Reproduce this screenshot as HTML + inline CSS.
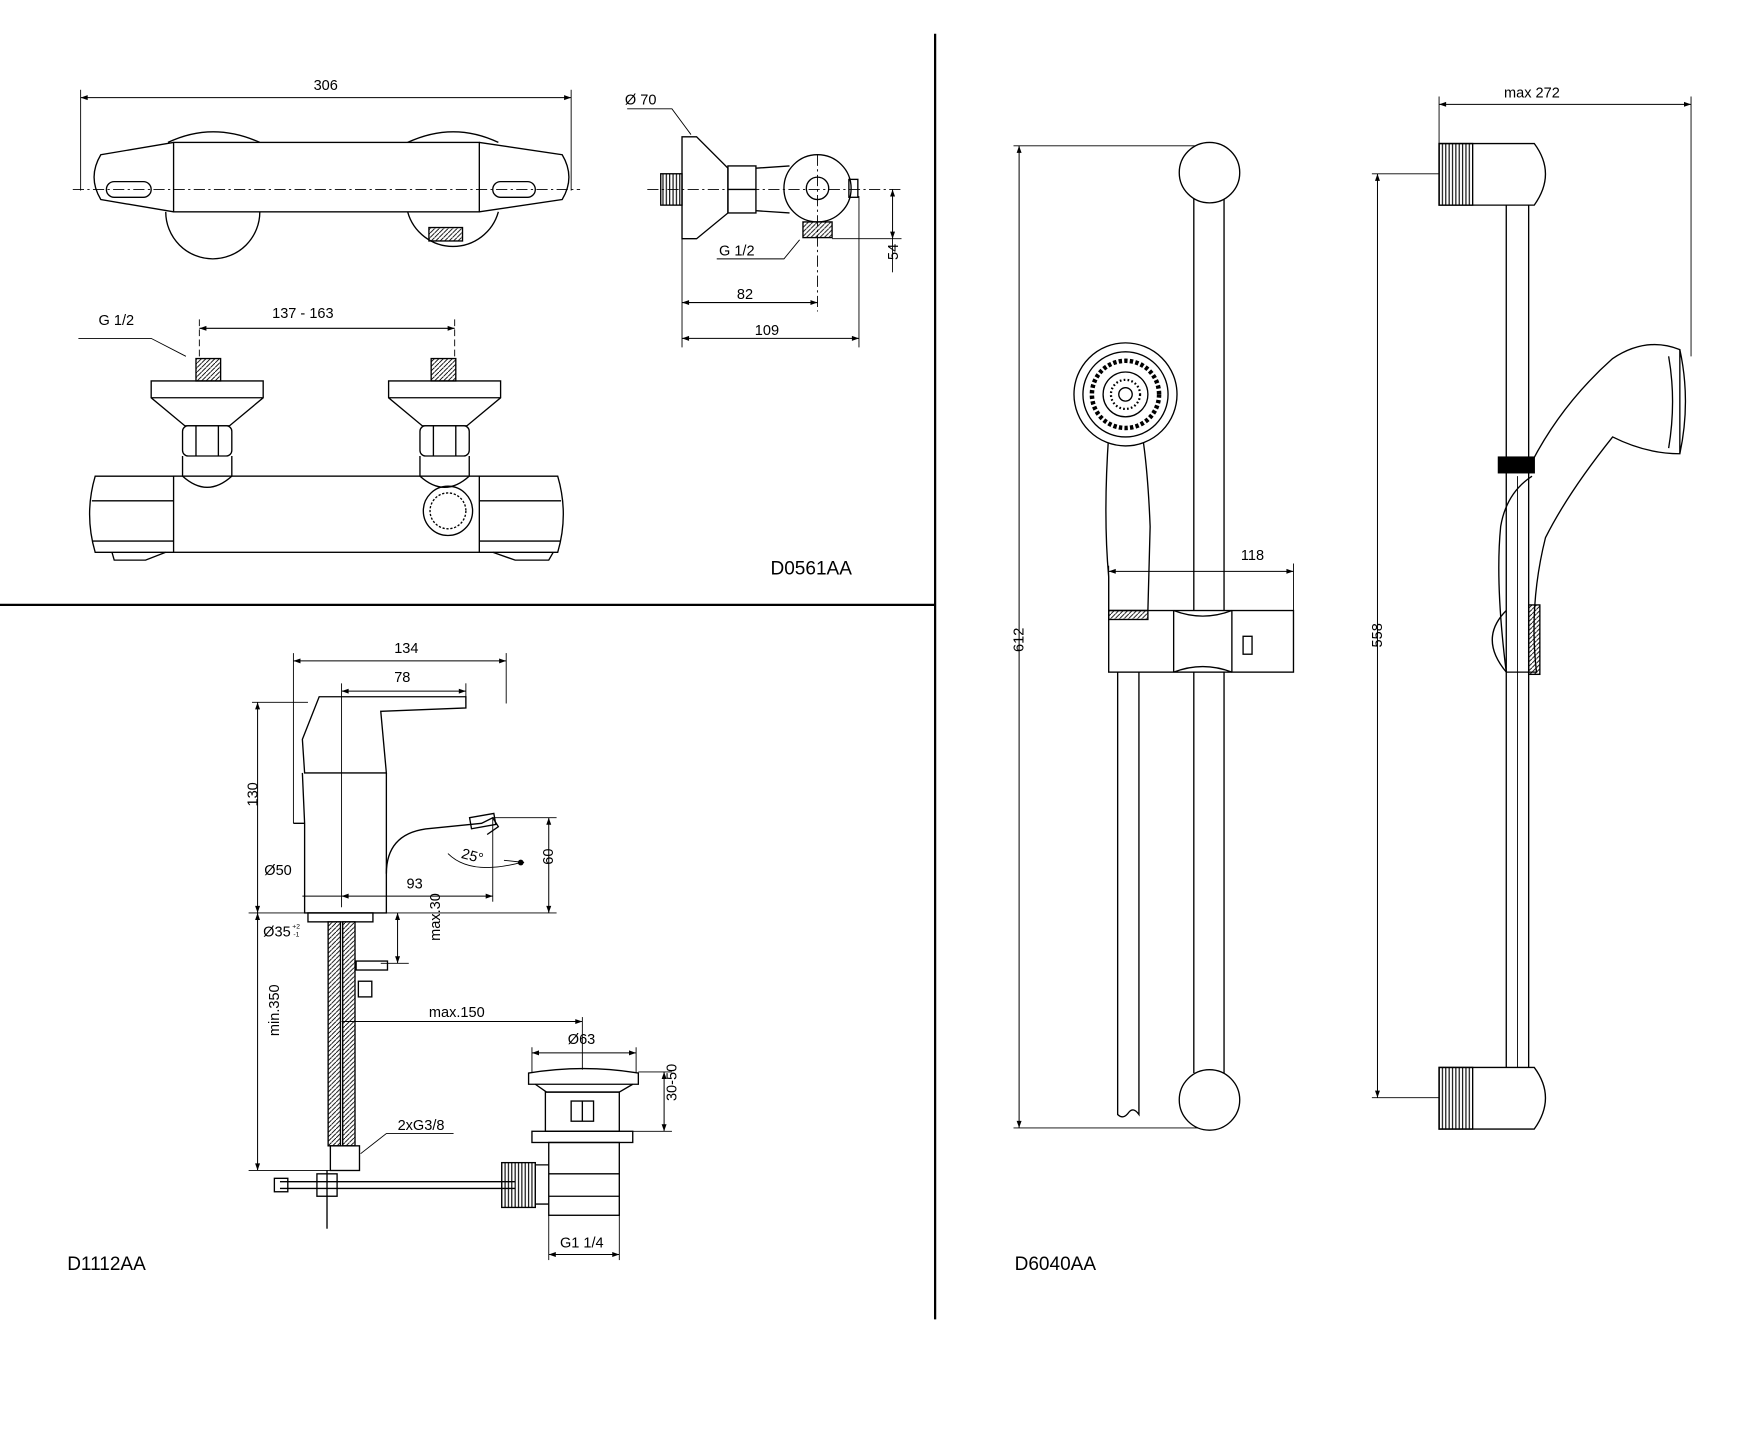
<!DOCTYPE html>
<html><head><meta charset="utf-8"><style>
html,body{margin:0;padding:0;background:#fff}
svg{display:block}
text{font-family:"Liberation Sans",Arial,sans-serif;font-size:13px;fill:#000}
.t{font-size:17px}
</style></head><body>
<svg width="1756" height="1454" viewBox="0 0 1568 1298" xmlns="http://www.w3.org/2000/svg">
<defs>
<marker id="a" viewBox="0 0 10 10" refX="10" refY="5" markerWidth="9" markerHeight="7" orient="auto-start-reverse"><path d="M0,1.5 L10,5 L0,8.5z" fill="#000"/></marker>
<pattern id="h" width="4" height="4" patternUnits="userSpaceOnUse"><path d="M0,4 L4,0" stroke="#000" stroke-width="0.8"/></pattern>
<pattern id="v" width="3" height="4" patternUnits="userSpaceOnUse"><path d="M1,0 V4" stroke="#000" stroke-width="1"/></pattern>
</defs>
<g fill="none" stroke="#000" stroke-width="1.2">
<line x1="835" y1="30" x2="835" y2="1178" stroke-width="2"/>
<line x1="0" y1="540" x2="835" y2="540" stroke-width="2"/>

<g stroke-width="0.8">
<line x1="72" y1="80" x2="72" y2="170"/><line x1="510" y1="80" x2="510" y2="170"/>
</g>
<line x1="72" y1="87" x2="510" y2="87" marker-start="url(#a)" marker-end="url(#a)" stroke-width="0.9"/>
<path d="M150,127 Q190,108 232,127 M148,189 A42,42 0 0 0 232,189"/>
<path d="M364,127 Q405,108 445,127 M364,189 A42,42 0 0 0 445,189"/>
<rect x="155" y="127" width="273" height="62"/>
<path d="M155,127 L90,138 Q78,158 90,178 L155,189"/>
<path d="M428,127 L502,138 Q514,158 502,178 L428,189"/>
<rect x="95" y="162" width="40" height="14" rx="7"/>
<rect x="440" y="162" width="38" height="14" rx="7"/>
<line x1="65" y1="169" x2="518" y2="169" stroke-dasharray="10,3,2,3" stroke-width="0.8"/>
<rect x="383" y="203" width="30" height="12" fill="url(#h)"/>

<rect x="590" y="155" width="19" height="28" fill="url(#v)"/>
<path d="M609,122 L622,122 L650,150 L650,190 L622,213 L609,213 Z"/>
<rect x="650" y="148" width="25" height="42"/><line x1="650" y1="169" x2="675" y2="169"/>
<path d="M675,150 L705,148 M675,188 L705,190"/>
<circle cx="730" cy="168" r="30"/><circle cx="730" cy="168" r="10"/>
<rect x="758" y="160" width="8" height="16"/>
<rect x="717" y="198" width="26" height="14" fill="url(#h)"/>
<line x1="578" y1="169" x2="805" y2="169" stroke-dasharray="10,3,2,3" stroke-width="0.8"/>
<line x1="730" y1="138" x2="730" y2="278" stroke-dasharray="10,3,2,3" stroke-width="0.8"/>
<g stroke-width="0.8">
<line x1="743" y1="213" x2="805" y2="213"/>
<line x1="609" y1="213" x2="609" y2="310"/><line x1="767" y1="175" x2="767" y2="310"/>
<path d="M560,97 L600,97 L617,120"/>
<path d="M640,231 L700,231 L714,214"/>
</g>
<line x1="797" y1="169" x2="797" y2="213" marker-start="url(#a)" marker-end="url(#a)" stroke-width="0.9"/>
<line x1="797" y1="213" x2="797" y2="243" stroke-width="0.8"/>
<line x1="609" y1="270" x2="730" y2="270" marker-start="url(#a)" marker-end="url(#a)" stroke-width="0.9"/>
<line x1="609" y1="302" x2="767" y2="302" marker-start="url(#a)" marker-end="url(#a)" stroke-width="0.9"/>

<rect x="175" y="320" width="22" height="20" fill="url(#h)"/>
<rect x="385" y="320" width="22" height="20" fill="url(#h)"/>
<path d="M135,340 H235 V355 L205,380 H165 L135,355 Z M135,355 H235"/>
<path d="M347,340 H447 V355 L417,380 H377 L347,355 Z M347,355 H447"/>
<rect x="163" y="380" width="44" height="27" rx="5"/><path d="M175,380 V407 M195,380 V407"/>
<rect x="375" y="380" width="44" height="27" rx="5"/><path d="M387,380 V407 M407,380 V407"/>
<path d="M163,407 V425 Q185,445 207,425 V407"/>
<path d="M375,407 V425 Q397,445 419,425 V407"/>
<rect x="155" y="425" width="273" height="68"/>
<path d="M155,425 H85 Q75,459 85,493 H155 M82,447 H155 M82,483 H155"/>
<path d="M428,425 H498 Q508,459 498,493 H428 M428,447 H501 M428,483 H501"/>
<path d="M100,493 L102,500 H130 L148,493 M440,493 L460,500 H490 L494,493"/>
<circle cx="400" cy="456" r="22"/><circle cx="400" cy="456" r="16" stroke-dasharray="2,1.5"/>
<g stroke-width="0.8">
<line x1="178" y1="285" x2="178" y2="318" stroke-dasharray="6,3"/>
<line x1="406" y1="285" x2="406" y2="318" stroke-dasharray="6,3"/>
<path d="M70,302 L135,302 L166,318"/>
</g>
<line x1="178" y1="293" x2="406" y2="293" marker-start="url(#a)" marker-end="url(#a)" stroke-width="0.9"/>

<g stroke-width="0.8">
<line x1="262" y1="583" x2="262" y2="735"/><line x1="452" y1="583" x2="452" y2="628"/>
<line x1="305" y1="610" x2="305" y2="810"/><line x1="416" y1="610" x2="416" y2="628"/>
<line x1="225" y1="627" x2="275" y2="627"/>
<line x1="222" y1="815" x2="497" y2="815"/>
<line x1="440" y1="730" x2="497" y2="730"/>
<line x1="440" y1="730" x2="440" y2="805"/>
<line x1="222" y1="1045" x2="300" y2="1045"/>
<line x1="340" y1="860" x2="365" y2="860"/>
<line x1="520" y1="908" x2="520" y2="955"/>
<line x1="475" y1="935" x2="475" y2="958"/><line x1="568" y1="935" x2="568" y2="958"/>
<line x1="570" y1="957" x2="600" y2="957"/><line x1="565" y1="1010" x2="600" y2="1010"/>
<line x1="490" y1="1085" x2="490" y2="1125"/><line x1="553" y1="1085" x2="553" y2="1125"/>
<path d="M405,1012 H345 L322,1030"/>
<path d="M450,768 L468,770"/>
</g>
<g stroke-width="0.9">
<line x1="262" y1="590" x2="452" y2="590" marker-start="url(#a)" marker-end="url(#a)"/>
<line x1="305" y1="617" x2="416" y2="617" marker-start="url(#a)" marker-end="url(#a)"/>
<line x1="230" y1="627" x2="230" y2="815" marker-start="url(#a)" marker-end="url(#a)"/>
<line x1="490" y1="730" x2="490" y2="815" marker-start="url(#a)" marker-end="url(#a)"/>
<line x1="305" y1="800" x2="440" y2="800" marker-start="url(#a)" marker-end="url(#a)"/>
<line x1="270" y1="800" x2="305" y2="800"/>
<line x1="355" y1="815" x2="355" y2="860" marker-start="url(#a)" marker-end="url(#a)"/>
<line x1="230" y1="815" x2="230" y2="1045" marker-start="url(#a)" marker-end="url(#a)"/>
<line x1="305" y1="912" x2="520" y2="912" marker-end="url(#a)"/>
<line x1="475" y1="940" x2="568" y2="940" marker-start="url(#a)" marker-end="url(#a)"/>
<line x1="593" y1="957" x2="593" y2="1010" marker-start="url(#a)" marker-end="url(#a)"/>
<line x1="490" y1="1120" x2="553" y2="1120" marker-start="url(#a)" marker-end="url(#a)"/>
</g>
<path d="M285,622 L416,622 L416,632 L340,635 L345,690 L272,690 L270,660 Z"/>
<path d="M270,690 L272,735 L262,735 M272,735 V815 H345 V780 Q345,745 380,740 L430,735 L440,730 L445,738 L435,745"/>
<path d="M345,690 V780"/>
<rect x="420" y="728" width="22" height="10" transform="rotate(-10 431 733)"/>
<path d="M400,762 Q420,782 465,770" stroke-width="0.8"/>
<circle cx="465" cy="770" r="2" fill="#000"/>
<rect x="275" y="815" width="58" height="8"/>
<rect x="293" y="823" width="11" height="200" fill="url(#h)"/>
<rect x="306" y="823" width="11" height="200" fill="url(#h)"/>
<rect x="318" y="858" width="28" height="8"/>
<rect x="320" y="876" width="12" height="14"/>
<rect x="295" y="1023" width="26" height="22"/>
<line x1="250" y1="1055" x2="460" y2="1055"/><line x1="250" y1="1061" x2="460" y2="1061"/>
<rect x="245" y="1052" width="12" height="12"/>
<rect x="283" y="1048" width="18" height="20"/>
<line x1="292" y1="1045" x2="292" y2="1097"/>
<rect x="448" y="1038" width="30" height="40" fill="url(#v)"/>
<path d="M472,958 Q521,950 570,958 V968 H472 Z"/>
<path d="M478,968 L488,975 H553 L565,968"/>
<rect x="487" y="975" width="66" height="35"/>
<rect x="510" y="983" width="20" height="18"/><line x1="520" y1="983" x2="520" y2="1001"/>
<rect x="475" y="1010" width="90" height="10"/>
<rect x="490" y="1020" width="63" height="65"/>
<path d="M478,1040 H490 M478,1075 H490 M490,1048 H553 M490,1068 H553"/>

<g stroke-width="0.8">
<line x1="905" y1="130" x2="1080" y2="130"/><line x1="905" y1="1007" x2="1080" y2="1007"/>
<line x1="990" y1="505" x2="990" y2="548"/><line x1="1155" y1="503" x2="1155" y2="548"/>
<line x1="1285" y1="86" x2="1285" y2="128"/><line x1="1510" y1="86" x2="1510" y2="318"/>
<line x1="1225" y1="155" x2="1285" y2="155"/><line x1="1225" y1="980" x2="1285" y2="980"/>
</g>
<g stroke-width="0.9">
<line x1="910" y1="130" x2="910" y2="1007" marker-start="url(#a)" marker-end="url(#a)"/>
<line x1="990" y1="510" x2="1155" y2="510" marker-start="url(#a)" marker-end="url(#a)"/>
<line x1="1285" y1="93" x2="1510" y2="93" marker-start="url(#a)" marker-end="url(#a)"/>
<line x1="1230" y1="155" x2="1230" y2="980" marker-start="url(#a)" marker-end="url(#a)"/>
</g>
<line x1="1066" y1="175" x2="1066" y2="958"/><line x1="1093" y1="175" x2="1093" y2="958"/>
<circle cx="1080" cy="154" r="27" fill="#fff"/>
<circle cx="1080" cy="982" r="27" fill="#fff"/>
<path d="M998,600 V995 Q1003,1000 1008,993 Q1012,988 1017,995 V600"/>
<path d="M990,388 Q985,460 990,515 L990,545 H1025 L1027,470 Q1025,420 1020,388"/>
<circle cx="1005" cy="352" r="46" fill="#fff"/>
<circle cx="1005" cy="352" r="38"/>
<circle cx="1005" cy="352" r="30" stroke-width="4" stroke-dasharray="3,2"/>
<circle cx="1005" cy="352" r="20"/>
<circle cx="1005" cy="352" r="13" stroke-width="2" stroke-dasharray="1.5,2"/>
<circle cx="1005" cy="352" r="6"/>
<rect x="990" y="545" width="165" height="55" fill="#fff"/>
<rect x="990" y="545" width="35" height="8" fill="url(#h)"/>
<path d="M1048,545 V600 M1100,545 V600 M1048,545 Q1074,555 1100,545 M1048,600 Q1074,590 1100,600"/>
<rect x="1110" y="568" width="8" height="16"/>

<line x1="1345" y1="183" x2="1345" y2="953"/><line x1="1365" y1="183" x2="1365" y2="953"/>
<line x1="1355" y1="425" x2="1355" y2="953" stroke-width="0.8"/>
<path d="M1285,128 H1370 Q1390,155 1370,183 H1285 Z"/>
<rect x="1285" y="128" width="30" height="55" fill="url(#v)"/>
<path d="M1285,953 H1370 Q1390,980 1370,1008 H1285 Z"/>
<rect x="1285" y="953" width="30" height="55" fill="url(#v)"/>
<path d="M1368,412 Q1395,360 1440,320 Q1470,300 1500,312 L1500,405 Q1470,405 1440,390 Q1400,440 1380,480 Q1365,540 1372,600 L1345,600 Q1335,520 1340,470 Q1345,440 1368,425"/>
<path d="M1500,312 Q1510,358 1500,405 M1490,318 Q1497,358 1490,400"/>
<rect x="1338" y="408" width="32" height="14" fill="#000"/>
<path d="M1345,545 Q1320,570 1345,600"/>
<rect x="1365" y="540" width="10" height="62" fill="url(#h)"/>
</g>
<g>
<text x="280" y="80">306</text>
<text x="558" y="93">Ø 70</text>
<text x="642" y="228">G 1/2</text>
<text x="658" y="267">82</text>
<text x="674" y="299">109</text>
<text x="793" y="241" transform="rotate(-90 793 232)">54</text>
<text x="88" y="290">G 1/2</text>
<text x="243" y="284">137 - 163</text>
<text class="t" x="688" y="513">D0561AA</text>
<text x="352" y="583">134</text>
<text x="352" y="609">78</text>
<text x="224" y="730" transform="rotate(-90 222 722)">130</text>
<text x="486" y="780" transform="rotate(-90 486 772)">60</text>
<text x="236" y="781">Ø50</text>
<text x="363" y="793">93</text>
<text x="412" y="768" transform="rotate(15 420 764)">25°</text>
<text x="235" y="836">Ø35</text>
<text x="261" y="829" style="font-size:6px">+2</text><text x="262" y="836" style="font-size:6px">-1</text>
<text x="373" y="860" transform="rotate(-90 373 840)">max.30</text>
<text x="224" y="950" transform="rotate(-90 224 925)">min.350</text>
<text x="383" y="908">max.150</text>
<text x="507" y="932">Ø63</text>
<text x="587" y="1000" transform="rotate(-90 587 983)">30-50</text>
<text x="355" y="1009">2xG3/8</text>
<text x="500" y="1114">G1 1/4</text>
<text class="t" x="60" y="1134">D1112AA</text>
<text x="904" y="592" transform="rotate(-90 904 582)">612</text>
<text x="1108" y="500">118</text>
<text x="1343" y="87">max 272</text>
<text x="1224" y="588" transform="rotate(-90 1224 578)">558</text>
<text class="t" x="906" y="1134">D6040AA</text>
</g>
</svg>
</body></html>
